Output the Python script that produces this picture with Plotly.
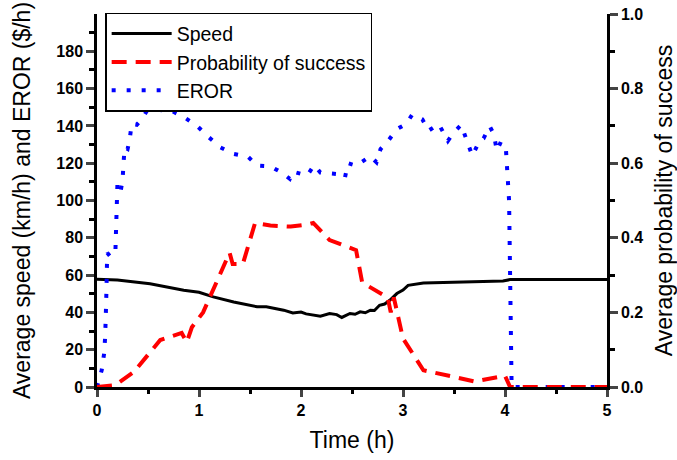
import plotly.graph_objects as go

# ---- data ----
speed_t = [0, 0.2, 0.52, 0.85, 1.0, 1.14, 1.34, 1.5, 1.57, 1.66, 1.75, 1.83, 1.92, 2.0,
           2.05, 2.12, 2.19, 2.28, 2.35, 2.40, 2.48, 2.53, 2.58, 2.63, 2.68, 2.72, 2.77,
           2.82, 2.87, 2.94, 3.0, 3.05, 3.2, 3.59, 3.98, 4.05, 5.0]
speed_v = [57.8, 57.4, 55.4, 51.9, 50.8, 48.3, 45.6, 43.8, 43.0, 43.0, 42.0, 41.2, 39.7, 40.2,
           39.2, 38.5, 38.0, 39.4, 38.8, 37.3, 39.4, 39.0, 40.3, 39.8, 41.2, 41.0, 43.8,
           44.5, 46.5, 50.1, 52.0, 54.5, 55.8, 56.3, 56.8, 57.6, 57.6]

prob_t = [0, 0.18, 0.36, 0.62, 0.83, 0.88, 0.93, 1.04, 1.3, 1.33, 1.43, 1.55, 1.7, 1.9,
          2.05, 2.12, 2.28, 2.54, 2.6, 2.85, 2.88, 2.91, 3.0, 3.2, 3.45, 3.7, 4.0, 4.05, 5.0]
prob_v = [0, 0.005, 0.04, 0.126, 0.145, 0.12, 0.16, 0.2, 0.36, 0.33, 0.33, 0.44, 0.433, 0.43,
          0.435, 0.44, 0.394, 0.367, 0.28, 0.24, 0.2, 0.24, 0.13, 0.045, 0.03, 0.015, 0.03, 0, 0]

eror_t = [0, 0.046, 0.07, 0.08, 0.09, 0.095, 0.1, 0.13, 0.18, 0.185, 0.19, 0.195, 0.2, 0.23,
          0.25, 0.26, 0.27, 0.30, 0.32, 0.34, 0.39, 0.44, 0.49, 0.59, 0.74, 0.86, 0.98, 1.09,
          1.21, 1.34, 1.48, 1.57, 1.70, 1.81, 1.89, 1.92, 2.0, 2.06, 2.13, 2.19, 2.27, 2.35,
          2.43, 2.46, 2.54, 2.68, 2.74, 2.78, 2.85, 2.94, 3.03, 3.09, 3.19, 3.25, 3.35, 3.40,
          3.44, 3.49, 3.57, 3.63, 3.68, 3.75, 3.79, 3.85, 3.89, 3.92, 3.96, 4.01, 4.02, 4.03,
          4.04, 4.05, 4.065, 5.0]
eror_v = [0, 9, 18, 27, 45.6, 54.5, 72, 70, 72, 81, 90, 99, 108.4, 104.4,
          110.7, 119.6, 128.5, 127.6, 132.6, 141, 140.6, 143.7, 148.1, 148.7, 147.8, 144.5, 140, 134.2,
          128.5, 125, 123.5, 118.7, 118.3, 115, 111.6, 115.5, 114.3, 113.4, 119, 115, 114.6, 114.2,
          112, 120, 118.7, 123.7, 120.5, 127.6, 131.7, 138.3, 141, 146, 143.5, 137.4, 141, 135.6,
          132, 136, 140.6, 131.5, 124, 132, 133.3, 139.8, 135.6, 126.7, 131.5, 126.7, 118, 109,
          100, 60, 0, 0]

x_ticks = [0, 1, 2, 3, 4, 5]
x_labels = ["0", "1", "2", "3", "4", "5"]
y_ticks = [0, 20, 40, 60, 80, 100, 120, 140, 160, 180]
y_labels = ["0", "20", "40", "60", "80", "100", "120", "140", "160", "180"]
y_minor = [10, 30, 50, 70, 90, 110, 130, 150, 170, 190]
y2_ticks = [0.0, 0.2, 0.4, 0.6, 0.8, 1.0]
y2_labels = ["0.0", "0.2", "0.4", "0.6", "0.8", "1.0"]


def bold(labels):
    return ["<b>%s</b>" % s for s in labels]


FONT = "Liberation Sans, Arial, sans-serif"
tickfont = dict(family=FONT, size=16, color="black")
titlefont = dict(family=FONT, size=23, color="black")

fig = go.Figure()
fig.add_trace(go.Scatter(x=speed_t, y=speed_v, name="Speed", mode="lines",
                         line=dict(color="black", width=3)))
fig.add_trace(go.Scatter(x=prob_t, y=prob_v, name="Probability of success", mode="lines",
                         yaxis="y2", line=dict(color="#ff0000", width=4, dash="15px,9px")))
fig.add_trace(go.Scatter(x=eror_t, y=eror_v, name="EROR", mode="lines",
                         line=dict(color="#0000ff", width=4, dash="4px,11px")))

fig.update_layout(
    width=677, height=460,
    margin=dict(l=97, r=70, t=14, b=73),
    paper_bgcolor="white", plot_bgcolor="white",
    showlegend=True,
    legend=dict(x=0.016, y=1.003, xanchor="left", yanchor="top",
                font=dict(family=FONT, size=19.5, color="black"),
                bgcolor="white", bordercolor="black", borderwidth=1.5,
                itemwidth=60, tracegroupgap=0, entrywidth=240),
    xaxis=dict(range=[0, 5], tickvals=x_ticks, ticktext=bold(x_labels),
               ticks="outside", ticklen=7, tickwidth=2.5, automargin=False,
               showline=True, linecolor="black", linewidth=2.5, showgrid=False, zeroline=False,
               tickfont=tickfont,
               minor=dict(tickvals=[0.5, 1.5, 2.5, 3.5, 4.5], ticks="outside", ticklen=4,
                          tickwidth=2.5, tickcolor="black"),
               title=dict(text="Time (h)", font=titlefont, standoff=14)),
    yaxis=dict(range=[0, 200], tickvals=y_ticks, ticktext=bold(y_labels),
               ticks="outside", ticklen=8, tickwidth=2.5, automargin=False,
               showline=True, linecolor="black", linewidth=2.5, showgrid=False, zeroline=False,
               tickfont=tickfont,
               minor=dict(tickvals=y_minor, ticks="outside", ticklen=5, tickwidth=2.5,
                          tickcolor="black"),
               title=dict(text="Average speed (km/h) and EROR ($/h)", font=titlefont, standoff=20)),
    yaxis2=dict(range=[0, 1], overlaying="y", side="right", tickvals=y2_ticks,
                ticktext=bold(y2_labels), automargin=False,
                ticks="outside", ticklen=8, tickwidth=2.5,
                showline=True, linecolor="black", linewidth=2.5, showgrid=False, zeroline=False,
                tickfont=tickfont,
                minor=dict(tickvals=[0.1, 0.3, 0.5, 0.7, 0.9], ticks="outside", ticklen=5,
                           tickwidth=2.5, tickcolor="black"),
                title=dict(text="Average probability of success", font=titlefont, standoff=18)),
)

fig.write_html("out.html")
